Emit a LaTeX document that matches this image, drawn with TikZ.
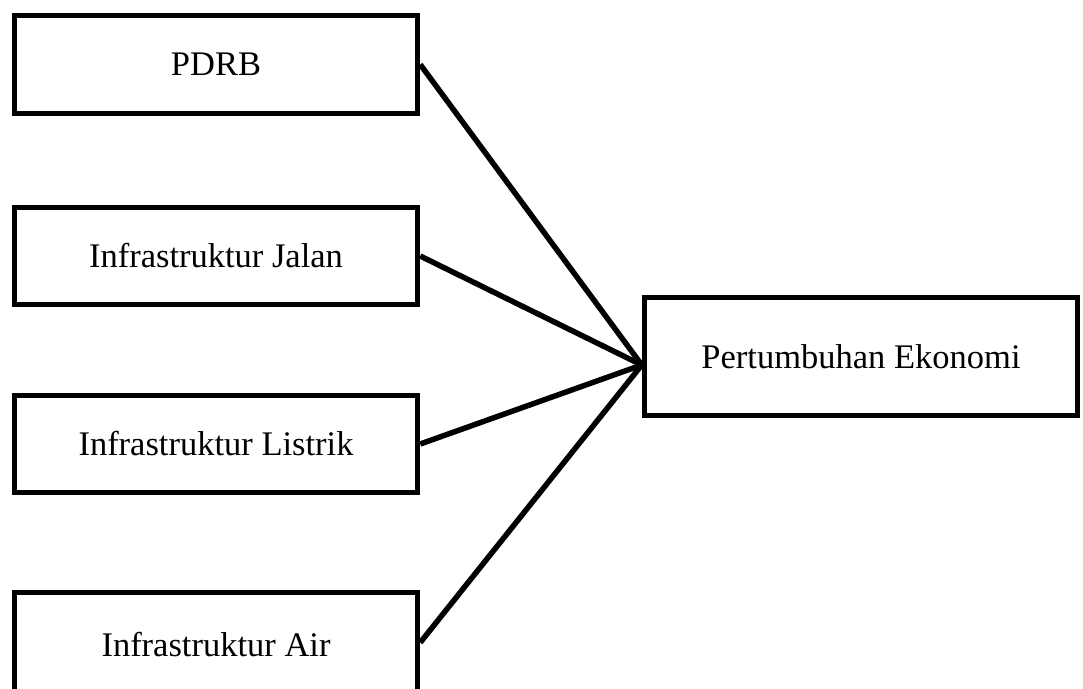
\documentclass[tikz,border=0pt]{standalone}
\usepackage{fontspec}
\setmainfont{Liberation Serif}
\begin{document}
\begin{tikzpicture}[x=1pt,y=-1pt,
  box/.style={draw=black, line width=5.5pt, rectangle, inner sep=0pt,
    minimum width=403pt, minimum height=97pt,
    font=\fontsize{34.5}{40}\selectfont},
  link/.style={draw=black, line width=5.5pt}]
\useasboundingbox (0,0) rectangle (1083,688);
\fill[white] (0,0) rectangle (1083,688);
\node[box, minimum height=98pt] (pdrb) at (216,64.5) {PDRB};
\node[box] (jalan) at (216,256) {Infrastruktur Jalan};
\node[box] (listrik) at (216,444) {Infrastruktur Listrik};
\node[box, minimum height=106pt] (air) at (216,645.5) {\raisebox{3pt}{Infrastruktur Air}};
\node[box, minimum width=433pt, minimum height=118pt] (pert) at (861,356.5) {Pertumbuhan Ekonomi};
\coordinate (hub) at ([yshift=-8.5pt]pert.west);
\draw[link] (pdrb.east) -- (hub);
\draw[link] (jalan.east) -- (hub);
\draw[link] (listrik.east) -- (hub);
\draw[link] ([yshift=3pt]air.east) -- (hub);
\end{tikzpicture}
\end{document}
